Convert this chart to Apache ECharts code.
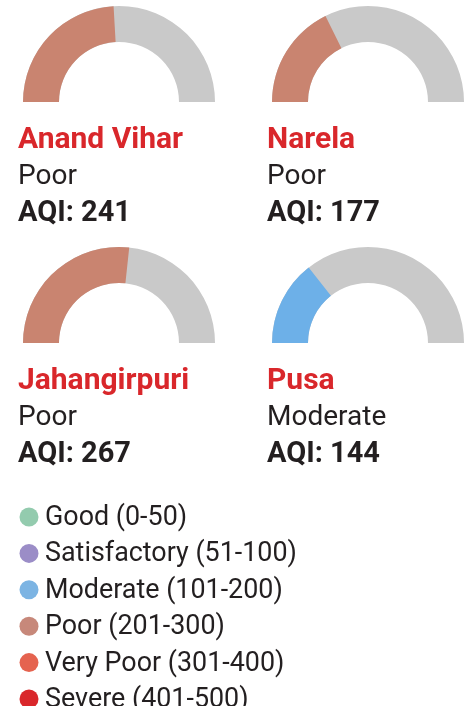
<!DOCTYPE html>
<html>
<head>
<meta charset="utf-8">
<script src="https://cdn.jsdelivr.net/npm/echarts@6/dist/echarts.min.js"></script>
<style>
  html, body { margin: 0; padding: 0; background: #fff; }
  #main { width: 470px; height: 706px; }
</style>
</head>
<body>
<div id="main"></div>
<script>
// stations and readings
var stations = ['Anand Vihar', 'Narela', 'Jahangirpuri', 'Pusa'];
var aqiValues = [241, 177, 267, 144];
var statusLabels = ['Poor', 'Poor', 'Poor', 'Moderate'];
var stationColors = ['#c98470', '#c98470', '#c98470', '#6db0e8'];

// legend categories
var bandNames = ['Good (0-50)', 'Satisfactory (51-100)', 'Moderate (101-200)', 'Poor (201-300)', 'Very Poor (301-400)', 'Severe (401-500)'];
var bandColors = ['#93cbae', '#9b8dc7', '#7cb4e3', '#c7887a', '#e5634f', '#d9272b'];

var aqiMax = 500;

var chart = echarts.init(document.getElementById('main'));

// panel positions
var cols = [119, 368];
var rows = [102, 343];
var textX = [18, 267];

var series = [];
var graphics = [];

stations.forEach(function (name, i) {
  var cx = cols[i % 2], cy = rows[Math.floor(i / 2)];
  series.push({
    type: 'gauge',
    center: [cx, cy],
    radius: 96,
    startAngle: 180,
    endAngle: 0,
    min: 0,
    max: aqiMax,
    pointer: { show: false },
    progress: { show: true, width: 36, roundCap: false, itemStyle: { color: stationColors[i] } },
    axisLine: { lineStyle: { width: 36, color: [[1, '#c9c9c9']] } },
    axisTick: { show: false },
    splitLine: { show: false },
    axisLabel: { show: false },
    title: { show: false },
    detail: { show: false },
    animation: false,
    data: [{ value: aqiValues[i], name: name }]
  });

  var tx = textX[i % 2];
  graphics.push({
    type: 'text', left: tx, top: cy + 23,
    style: { text: name, font: 'bold 30px Roboto', fill: '#d9272b' }
  });
  graphics.push({
    type: 'text', left: tx, top: cy + 61,
    style: { text: statusLabels[i], font: '28px Roboto', fill: '#231f20' }
  });
  graphics.push({
    type: 'text', left: tx, top: cy + 97,
    style: { text: 'AQI: ' + aqiValues[i], font: 'bold 29px Roboto', fill: '#231f20' }
  });
});

bandNames.forEach(function (b, i) {
  var y = 517 + i * 36.4;
  graphics.push({
    type: 'circle', shape: { cx: 29, cy: y, r: 9.5 },
    style: { fill: bandColors[i] }
  });
  graphics.push({
    type: 'text', x: 45, y: y + 1, scaleX: 0.96,
    style: { text: b, font: '28px Roboto', fill: '#231f20', verticalAlign: 'middle' }
  });
});

chart.setOption({
  animation: false,
  series: series,
  graphic: graphics
});
</script>
</body>
</html>
